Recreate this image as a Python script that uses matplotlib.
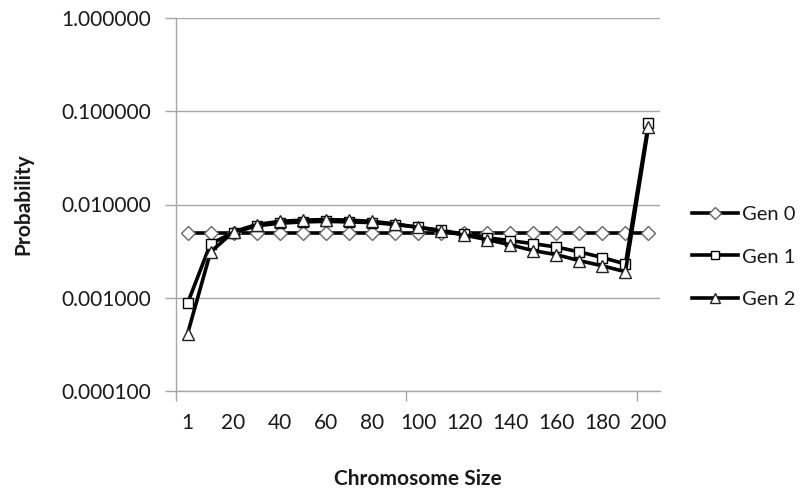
import matplotlib
matplotlib.use("Agg")
import matplotlib.pyplot as plt
import numpy as np
from matplotlib.ticker import FixedLocator, FixedFormatter, NullFormatter

plt.rcParams['font.family'] = ['Lato', 'DejaVu Sans']

sizes = [1, 10, 20, 30, 40, 50, 60, 70, 80, 90, 100, 110, 120, 130, 140, 150, 160, 170, 180, 190, 200]
gen0 = [0.005, 0.005, 0.005, 0.005, 0.005, 0.005, 0.005, 0.005, 0.005, 0.005, 0.005,
        0.005, 0.005, 0.005, 0.005, 0.005, 0.005, 0.005, 0.005, 0.005, 0.005]
gen1 = [0.00087, 0.0038, 0.0050, 0.0059, 0.0063, 0.0065, 0.0066, 0.0065, 0.0064, 0.0061, 0.0057,
        0.0053, 0.0048, 0.0044, 0.0041, 0.0038, 0.0035, 0.0031, 0.0027, 0.0023, 0.074]
gen2 = [0.00041, 0.0031, 0.0051, 0.0061, 0.0066, 0.0068, 0.0069, 0.0068, 0.0066, 0.0062, 0.0057,
        0.0052, 0.0047, 0.0042, 0.0037, 0.0032, 0.0029, 0.0025, 0.0022, 0.0019, 0.068]
series_names = ["Gen 0", "Gen 1", "Gen 2"]
y_ticks = [0.0001, 0.001, 0.01, 0.1, 1.0]
x_tick_labels = ["1", "20", "40", "60", "80", "100", "120", "140", "160", "180", "200"]

fig = plt.figure(figsize=(8.03, 4.91), dpi=100)
ax = fig.add_axes([176/803, 1-391/491, (660-176)/803, (391-18)/491])

x = np.arange(len(sizes))
grid_c = '#a6a6a6'
txt_c = '#1a1a1a'

ax.plot(x, gen0, color='black', lw=2.6, marker='D', ms=7.5, mfc='white', mec='#666666', mew=1.0,
        label=series_names[0], zorder=3)
ax.plot(x, gen1, color='black', lw=2.6, marker='s', ms=7.5, mfc='white', mec='black', mew=1.0,
        label=series_names[1], zorder=4)
ax.plot(x, gen2, color='black', lw=2.6, marker='^', ms=8, mfc='white', mec='#222222', mew=1.0,
        label=series_names[2], zorder=5)

ax.set_yscale('log')
ax.set_ylim(1e-4, 1.0)
ax.set_xlim(-0.5, len(sizes) - 0.5)

ax.yaxis.set_major_locator(FixedLocator(y_ticks))
ax.yaxis.set_major_formatter(FixedFormatter(["%.6f" % v for v in y_ticks]))
ax.yaxis.set_minor_locator(FixedLocator([]))
ax.tick_params(axis='y', which='major', length=8, width=1, color=grid_c, pad=10,
               labelsize=15, labelcolor=txt_c)
ax.grid(axis='y', which='major', color=grid_c, lw=1)

# x: boundary ticks every 10 categories, labels every 2 categories
ax.xaxis.set_major_locator(FixedLocator([-0.5, 9.5, 19.5]))
ax.xaxis.set_major_formatter(NullFormatter())
label_pos = [i for i in range(0, len(sizes), 2)]
ax.xaxis.set_minor_locator(FixedLocator(label_pos))
ax.xaxis.set_minor_formatter(FixedFormatter(x_tick_labels))
ax.tick_params(axis='x', which='major', length=7, width=1, color=grid_c)
ax.tick_params(axis='x', which='minor', length=0, pad=16, labelsize=15, labelcolor=txt_c)

for s in ['top', 'right']:
    ax.spines[s].set_visible(False)
for s in ['left', 'bottom']:
    ax.spines[s].set_color(grid_c)
    ax.spines[s].set_linewidth(1)

ax.set_xlabel("Chromosome Size", fontsize=15, fontweight='bold', color=txt_c, labelpad=26)
ax.set_ylabel("Probability", fontsize=15, fontweight='bold', color=txt_c, labelpad=20)

leg = fig.legend(loc='center left', bbox_to_anchor=(692/803, 1-257/491), frameon=False,
                 fontsize=14.5, handlelength=2.3, handletextpad=0.2, labelspacing=1.25,
                 borderaxespad=0, borderpad=0, markerscale=0.85)
for t in leg.get_texts():
    t.set_color(txt_c)

fig.savefig("out.png", dpi=100)
